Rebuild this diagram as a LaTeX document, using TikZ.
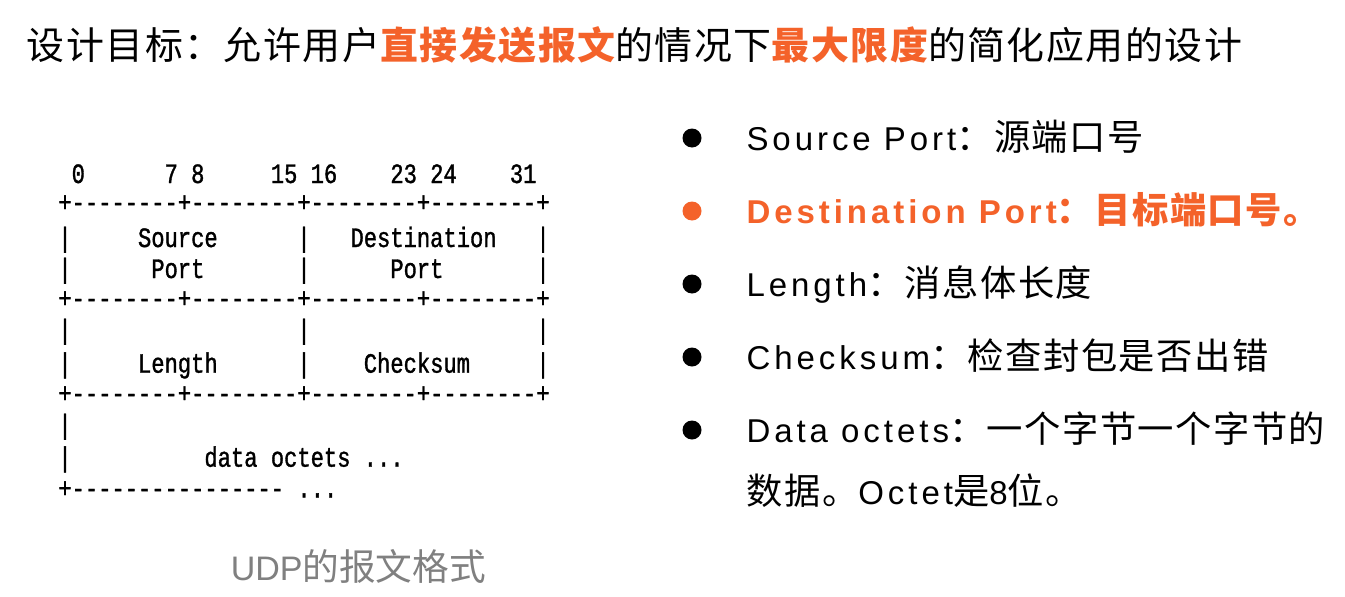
\documentclass[tikz,border=0pt]{standalone}
\usepackage{fontspec}
\setmainfont{Liberation Sans}
\newfontfamily\latB[LetterSpace=12]{Liberation Sans}
\newfontfamily\cjkB[Scale=1.1,LetterSpace=4]{Noto Sans CJK SC}
\newfontfamily\cjkT[LetterSpace=4]{Noto Sans CJK SC}
\newfontfamily\cjk{Noto Sans CJK SC}
\newfontfamily\asciifont[FakeStretch=0.7903,FakeBold=1.2,Ligatures=TeXOff]{Liberation Mono}
\definecolor{accent}{RGB}{244,98,42}
\definecolor{capgray}{RGB}{128,128,128}
% place a monospaced piece of the header drawing at a character column
\newcommand\asc[4]{\node[mono] (#1) at ({58.36+13.28*#2},#3) {#4};}
\begin{document}
\begin{tikzpicture}[x=0.75pt,y=-0.75pt,
  mono/.style={anchor=base west, inner sep=0pt, outer sep=0pt,
    font=\asciifont\fontsize{21}{21}\selectfont},
  body/.style={anchor=base west, inner sep=0pt, outer sep=0pt,
    font=\fontsize{24.75}{30}\selectfont},
  dot/.style={circle, fill=#1, draw=none, inner sep=0pt, minimum size=14.25pt},
  dot/.default=black]
\fill[white] (0,0) rectangle (1345,596);
\useasboundingbox (0,0) rectangle (1345,596);

% headline
\node[anchor=base west, inner sep=0pt, font=\cjkT\fontsize{28.45}{34}\selectfont]
  (title) at (26.5,59)
  {设计目标：允许用户{\color{accent}\bfseries 直接发送报文}的情况下{\color{accent}\bfseries 最大限度}的简化应用的设计};

% UDP header layout, RFC 768 style
\asc{n0}{1}{183}{0}
\asc{n7}{8}{183}{7}
\asc{n8}{10}{183}{8}
\asc{n15}{16}{183}{15}
\asc{n16}{19}{183}{16}
\asc{n23}{25}{183}{23}
\asc{n24}{28}{183}{24}
\asc{n31}{34}{183}{31}

\asc{rule1}{0}{211.5}{+--------+--------+--------+--------+}

\asc{a1}{0}{247}{|}
\asc{src}{6}{247}{Source}
\asc{a2}{18}{247}{|}
\asc{dst}{22}{247}{Destination}
\asc{a3}{36}{247}{|}

\asc{b1}{0}{278}{|}
\asc{srcp}{7}{278}{Port}
\asc{b2}{18}{278}{|}
\asc{dstp}{25}{278}{Port}
\asc{b3}{36}{278}{|}

\asc{rule2}{0}{307.5}{+--------+--------+--------+--------+}

\asc{c1}{0}{339}{|}
\asc{c2}{18}{339}{|}
\asc{c3}{36}{339}{|}

\asc{d1}{0}{372.7}{|}
\asc{len}{6}{372.7}{Length}
\asc{d2}{18}{372.7}{|}
\asc{chk}{23}{372.7}{Checksum}
\asc{d3}{36}{372.7}{|}

\asc{rule3}{0}{402.5}{+--------+--------+--------+--------+}

\asc{e1}{0}{434}{|}

\asc{f1}{0}{466.7}{|}
\asc{data}{11}{466.7}{data}
\asc{oct}{16}{466.7}{octets}
\asc{more}{23}{466.7}{...}

\asc{rule4}{0}{497.5}{+----------------}
\asc{tail}{18}{497.5}{...}

% caption
\node[anchor=base west, inner sep=0pt, text=capgray] (cap) at (230.5,580)
  {\fontsize{25.5}{30}\selectfont UDP{\cjk\fontsize{27.5}{32}\selectfont 的报文格式}};

% field descriptions
\node[dot] (p1) at (692,138) {};
\node[dot=accent] (p2) at (692,211) {};
\node[dot] (p3) at (692,284) {};
\node[dot] (p4) at (692,357) {};
\node[dot] (p5) at (692,430) {};

\node[body] (t1) at (746.5,150) {\latB Source Port\cjkB ：源端口号};
\node[body, text=accent] (t2) at (746.5,223)
  {\bfseries\latB Destination Port\cjkB ：目标端口号。};
\node[body] (t3) at (746.5,296) {\latB Length\cjkB ：消息体长度};
\node[body] (t4) at (746.5,369) {\latB Checksum\cjkB ：检查封包是否出错};
\node[body] (t5) at (746.5,442) {\latB Data octets\cjkB ：一个字节一个字节的};
\node[body] (t6) at (746.5,504)
  {{\cjkB 数据。}{\latB Octet}{\cjkB 是}{\latB 8}{\cjkB 位。}};
\end{tikzpicture}
\end{document}
